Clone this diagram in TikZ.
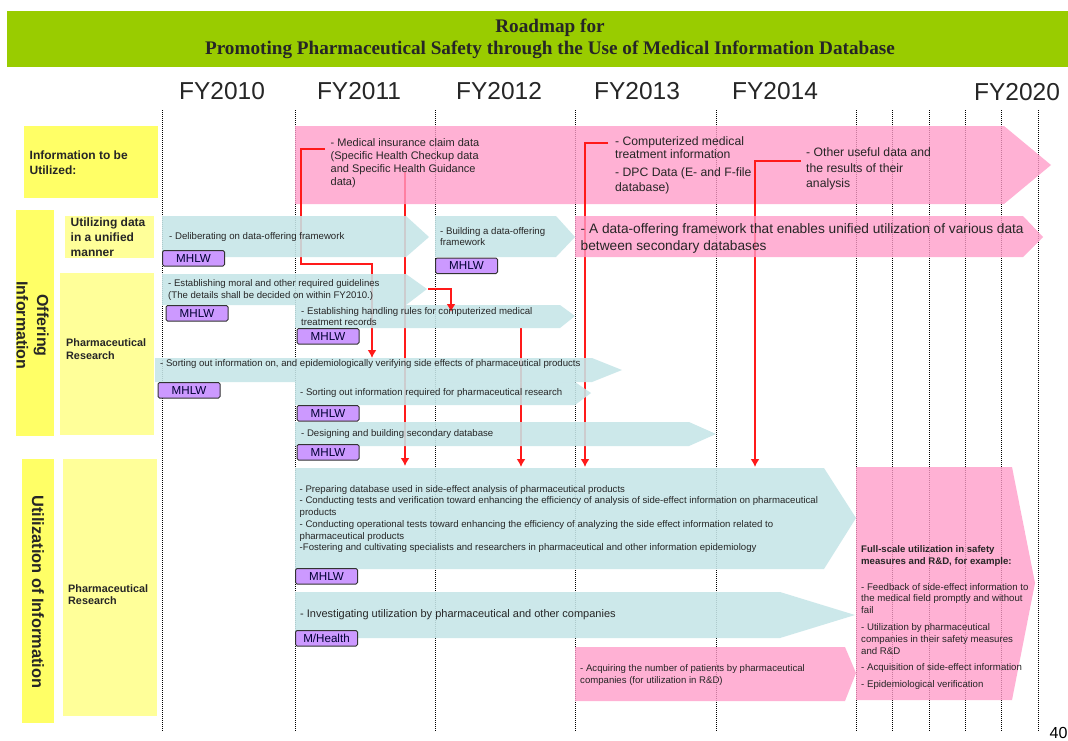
\documentclass[tikz,border=0pt]{standalone}
\usepackage{fontspec}
\setmainfont{Liberation Sans}
\newfontfamily\titlefont{Liberation Serif}
\definecolor{barG}{HTML}{99CC00}
\definecolor{yelA}{HTML}{FFFF66}
\definecolor{yelB}{HTML}{FFFF99}
\definecolor{pinkF}{HTML}{FF9CC9}
\definecolor{blueF}{HTML}{C6E5E8}
\definecolor{purpF}{HTML}{CC99FF}
\definecolor{redL}{HTML}{FF1A1A}
\usetikzlibrary{arrows.meta}
\tikzset{
  x=1pt,y=-1pt,
  gridline/.style={black,line width=1pt,dash pattern=on 1pt off 1pt},
  pinkarrow/.style={fill=pinkF,fill opacity=.78,draw=none},
  bluearrow/.style={fill=blueF,fill opacity=.88,draw=none},
  yelbox/.style={fill=#1,draw=none,inner sep=0pt,anchor=north west},
  fy/.style={font=\fontsize{24.5}{28}\selectfont,text=black!85,inner sep=0pt},
  txt/.style={anchor=north west,inner sep=0pt,align=left,text=black!85,font=\fontsize{#1}{#1}\selectfont},
  agency/.style={draw=black!80,line width=1pt,rounded corners=1.5pt,fill=purpF,minimum width=62pt,minimum height=15.5pt,inner sep=0pt,text=black!80!blue,font=\fontsize{11.6}{12}\selectfont,anchor=north west},
  redline/.style={draw=redL,line width=1.7pt},
  redarrow/.style={redline,-{Latex[length=8pt,width=9pt]}},
}
\begin{document}
\begin{tikzpicture}
\useasboundingbox (0,0) rectangle (1068,740);
\fill[white] (0,0) rectangle (1068,740);
% title
\node[yelbox=barG,minimum width=1061pt,minimum height=56pt] (title) at (7,11) {};
\node[font=\titlefont\bfseries\fontsize{19.2}{22}\selectfont,align=center,inner sep=0pt,text=black!85] (titletext) at (550,38.5) {Roadmap for\\Promoting Pharmaceutical Safety through the Use of Medical Information Database};
% years
\node[fy] (y10) at (222,91) {FY2010};
\node[fy] (y11) at (359,91) {FY2011};
\node[fy] (y12) at (499,91) {FY2012};
\node[fy] (y13) at (637,91) {FY2013};
\node[fy] (y14) at (775,91) {FY2014};
\node[fy] (y20) at (1017,92) {FY2020};
% grid
\foreach \gx in {162,295,435,575,716,856,892,929,965,1001.5,1038}
  \draw[gridline] (\gx,110) -- (\gx,731);
% yellow boxes
\node[yelbox=yelA,minimum width=134pt,minimum height=72pt] (infobox) at (24,126) {};
\node[txt=12,font=\bfseries\fontsize{12}{15}\selectfont,anchor=west] (infotxt) at (29.5,162.5) {Information to be\\Utilized:};
\node[yelbox=yelA,minimum width=38pt,minimum height=226pt] (offerbox) at (16,210) {};
\node[font=\bfseries\fontsize{16}{20.5}\selectfont,align=center,rotate=-90,inner sep=0pt,text=black!85] (offertxt) at (32.5,325.5) {Offering\\Information};
\node[yelbox=yelB,minimum width=89pt,minimum height=42pt] (unifybox) at (65,216) {};
\node[txt=12,font=\bfseries\fontsize{12}{15}\selectfont,anchor=west] (unifytxt) at (70.5,237) {Utilizing data\\in a unified\\manner};
\node[yelbox=yelB,minimum width=94pt,minimum height=162pt] (pharmbox) at (60,273) {};
\node[txt=10.8,font=\bfseries\fontsize{10.8}{12.7}\selectfont,anchor=west] (pharmtxt) at (66,349) {Pharmaceutical\\Research};
\node[yelbox=yelA,minimum width=32pt,minimum height=264pt] (utilbox) at (22,459) {};
\node[font=\bfseries\fontsize{16.4}{19}\selectfont,rotate=-90,inner sep=0pt,text=black!85] (utiltxt) at (38,592) {Utilization of Information};
\node[yelbox=yelB,minimum width=94pt,minimum height=257pt] (pharmboxb) at (63,459) {};
\node[txt=10.8,font=\bfseries\fontsize{10.8}{12.7}\selectfont,anchor=west] (pharmtxtb) at (68,594.5) {Pharmaceutical\\Research};
% connector end points
\coordinate (r1a) at (325,149); \coordinate (r1b) at (301,149); \coordinate (r1c) at (301,264); \coordinate (r1d) at (372,264); \coordinate (r1e) at (372,358);
\coordinate (r2a) at (405,172); \coordinate (r2b) at (405,466);
\coordinate (r3a) at (428,289); \coordinate (r3b) at (451,289); \coordinate (r3c) at (451,312);
\coordinate (r4a) at (521,328); \coordinate (r4b) at (521,467);
\coordinate (r5a) at (608,143); \coordinate (r5b) at (585,143); \coordinate (r5c) at (585,467);
\coordinate (r6a) at (801,161); \coordinate (r6b) at (755,161); \coordinate (r6c) at (755,467);
\draw[redarrow] (r2a) -- (r2b);
\fill[pinkarrow] (295,126) -- (1004,126) -- (1051,165) -- (1004,204) -- (295,204) -- cycle;
\draw[redarrow] (r4a) -- (r4b);
\draw[redarrow] (r5a) -- (r5b) -- (r5c);
\draw[redarrow] (r6a) -- (r6b) -- (r6c);
\draw[redarrow] (r1a) -- (r1b) -- (r1c) -- (r1d) -- (r1e);
% arrows
\fill[bluearrow] (162,216) -- (406,216) -- (429,237) -- (406,257) -- (162,257) -- cycle;
\fill[bluearrow] (435,216) -- (556,216) -- (575,237) -- (556,257) -- (435,257) -- cycle;
\fill[pinkarrow] (575,216) -- (1023,216) -- (1043,237) -- (1023,257) -- (575,257) -- cycle;
\fill[bluearrow] (162,274) -- (406,274) -- (427,289) -- (406,305) -- (162,305) -- cycle;
\fill[bluearrow] (295,305) -- (560,305) -- (575,316) -- (560,328) -- (295,328) -- cycle;
\fill[bluearrow] (155,358) -- (592,358) -- (622,370) -- (592,382) -- (155,382) -- cycle;
\fill[bluearrow] (295,382) -- (575,382) -- (591,393) -- (575,405) -- (295,405) -- cycle;
\fill[bluearrow] (295,422) -- (689,422) -- (716,434) -- (689,446) -- (295,446) -- cycle;
\fill[bluearrow] (295,468) -- (824,468) -- (856,518) -- (824,569) -- (295,569) -- cycle;
\fill[bluearrow] (295,592) -- (780,592) -- (855,615) -- (780,638) -- (295,638) -- cycle;
\fill[pinkarrow] (575,647) -- (845,647) -- (856,673) -- (845,701) -- (575,701) -- cycle;
\fill[pinkarrow] (856,467) -- (1012,467) -- (1035,583) -- (1012,700) -- (856,700) -- cycle;
\draw[redarrow] (r3a) -- (r3b) -- (r3c);
% texts in big pink arrow
\node[txt=11,font=\fontsize{11}{13}\selectfont] (t1) at (330.5,138) {- Medical insurance claim data\\(Specific Health Checkup data\\and Specific Health Guidance\\data)};
\node[txt=12.2,font=\fontsize{12.2}{13}\selectfont] (t2) at (615,136) {- Computerized medical\\treatment information};
\node[txt=12.2,font=\fontsize{12.2}{15}\selectfont] (t3) at (615,167.5) {- DPC Data (E- and F-file\\database)};
\node[txt=12.2,font=\fontsize{12.2}{15.5}\selectfont] (t4) at (806,147.5) {- Other useful data and\\the results of their\\analysis};
% framework row
\node[txt=9.6,font=\fontsize{9.65}{11}\selectfont,anchor=west] (t5) at (169,237) {- Deliberating on data-offering framework};
\node[txt=9.6,font=\fontsize{9.65}{11}\selectfont,anchor=west] (t6) at (440,236.5) {- Building a data-offering\\framework};
\node[txt=13.7,font=\fontsize{13.7}{16.3}\selectfont,anchor=west] (t7) at (580.5,238.5) {- A data-offering framework that enables unified utilization of various data\\between secondary databases};
\node[txt=9.6,font=\fontsize{9.6}{12}\selectfont,anchor=west] (t8) at (168,290) {- Establishing moral and other required guidelines\\(The details shall be decided on within FY2010.)};
\node[txt=9.6,font=\fontsize{9.65}{11}\selectfont,anchor=west] (t9) at (301,316.5) {- Establishing handling rules for computerized medical\\treatment records};
\node[txt=9.6,font=\fontsize{9.6}{11}\selectfont,anchor=west] (t10) at (160,364.5) {- Sorting out information on, and epidemiologically verifying side effects of pharmaceutical products};
\node[txt=9.6,font=\fontsize{9.6}{11}\selectfont,anchor=west] (t11) at (300,393) {- Sorting out information required for pharmaceutical research};
\node[txt=9.6,font=\fontsize{9.6}{11}\selectfont,anchor=west] (t12) at (301,434) {- Designing and building secondary database};
\node[txt=9.6,font=\fontsize{9.6}{11.7}\selectfont,anchor=west] (t13) at (299.5,519) {- Preparing database used in side-effect analysis of pharmaceutical products\\- Conducting tests and verification toward enhancing the efficiency of analysis of side-effect information on pharmaceutical\\products\\- Conducting operational tests toward enhancing the efficiency of analyzing the side effect information related to\\pharmaceutical products\\-Fostering and cultivating specialists and researchers in pharmaceutical and other information epidemiology};
\node[txt=11,font=\fontsize{11}{12}\selectfont,anchor=west] (t14) at (300,615) {- Investigating utilization by pharmaceutical and other companies};
\node[txt=9.6,font=\fontsize{9.6}{12}\selectfont,anchor=west] (t15) at (580,675) {- Acquiring the number of patients by pharmaceutical\\companies (for utilization in R\&D)};
\node[txt=9.6,font=\bfseries\fontsize{9.6}{12}\selectfont,anchor=west] (t16) at (861,556) {Full-scale utilization in safety\\measures and R\&D, for example:};
\node[txt=9.6,font=\fontsize{9.65}{11.7}\selectfont,anchor=west] (t17) at (861,598.5) {- Feedback of side-effect information to\\the medical field promptly and without\\fail};
\node[txt=9.6,font=\fontsize{9.65}{11.9}\selectfont,anchor=west] (t18) at (861,639) {- Utilization by pharmaceutical\\companies in their safety measures\\and R\&D};
\node[txt=9.6,font=\fontsize{9.65}{11}\selectfont,anchor=west] (t19) at (861,668) {- Acquisition of side-effect information};
\node[txt=9.6,font=\fontsize{9.65}{11}\selectfont,anchor=west] (t20) at (861,685) {- Epidemiological verification};
% agencies
\node[agency] (a1) at (162,250) {MHLW};
\node[agency] (a2) at (435,257.5) {MHLW};
\node[agency] (a3) at (165.5,305) {MHLW};
\node[agency] (a4) at (296.5,328) {MHLW};
\node[agency] (a5) at (157.5,382) {MHLW};
\node[agency] (a6) at (296.5,405) {MHLW};
\node[agency] (a7) at (296.5,444) {MHLW};
\node[agency] (a8) at (295,568) {MHLW};
\node[agency] (a9) at (295,630) {M/Health};
% page number
\node[anchor=base west,inner sep=0pt,font=\fontsize{16}{20}\selectfont] (pg) at (1049.5,738) {40};
\end{tikzpicture}
\end{document}
